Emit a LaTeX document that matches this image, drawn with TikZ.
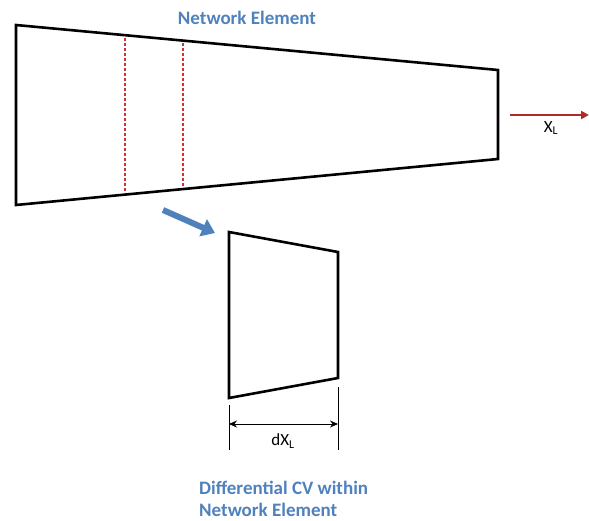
\documentclass[tikz,border=0pt]{standalone}
\usepackage{fontspec}
\setmainfont{Carlito}
\usetikzlibrary{arrows.meta}
\definecolor{offblue}{HTML}{4F81BD}
\definecolor{offred}{HTML}{D03030}
\begin{document}
\begin{tikzpicture}[x=1pt,y=-1pt,
  outline/.style={draw=black,line width=2.6pt,line join=miter},
  cutline/.style={draw=offred,line width=1.2pt,dash pattern=on 3pt off 2pt},
  title/.style={text=offblue,font=\fontsize{19}{22}\selectfont\bfseries,inner sep=0pt},
  lab/.style={font=\fontsize{17}{19}\selectfont,inner sep=0pt},
  dim/.style={draw=black,line width=0.9pt}]
\useasboundingbox (0,0) rectangle (589,520);
% big element
\coordinate (a1) at (16,25);
\coordinate (a2) at (498,70);
\coordinate (a3) at (498,159);
\coordinate (a4) at (16,205);
\draw[outline] (a1) -- (a2) -- (a3) -- (a4) -- cycle;
\coordinate (d1t) at (125,38);
\coordinate (d1b) at (125,192);
\coordinate (d2t) at (183,43);
\coordinate (d2b) at (183,186);
\draw[cutline] (d1t) -- (d1b);
\draw[cutline] (d2t) -- (d2b);
\node[title] (t1) at (247,18) {Network Element};
% flow arrow
\coordinate (r1) at (510,115);
\coordinate (r2) at (589,115);
\draw[draw=offred!85!black,line width=2pt,-{Triangle[length=8pt,width=8pt]}] (r1) -- (r2);
\node[lab] (xl) at (551,128) {X\textsubscript{L}};
% blue arrow
\coordinate (b1) at (163,210);
\coordinate (b2) at (215,233);
\draw[draw=offblue,line width=6pt,-{Triangle[length=13pt,width=18pt]}] (b1) -- (b2);
% small element
\coordinate (s1) at (229,232);
\coordinate (s2) at (338,252);
\coordinate (s3) at (338,378);
\coordinate (s4) at (229,398);
\draw[outline] (s1) -- (s2) -- (s3) -- (s4) -- cycle;
% dimension
\coordinate (e1t) at (229,405);
\coordinate (e1b) at (229,450);
\coordinate (e2t) at (338,387);
\coordinate (e2b) at (338,450);
\draw[dim] (e1t) -- (e1b);
\draw[dim] (e2t) -- (e2b);
\coordinate (h1) at (229,424);
\coordinate (h2) at (338,424);
\draw[dim,{Stealth[length=8pt,width=7pt]}-{Stealth[length=8pt,width=7pt]}] (h1) -- (h2);
\node[lab] (dxl) at (283,441) {dX\textsubscript{L}};
\node[title,anchor=west,align=left] (t2) at (199,499) {Differential CV within\\Network Element};
\end{tikzpicture}
\end{document}
